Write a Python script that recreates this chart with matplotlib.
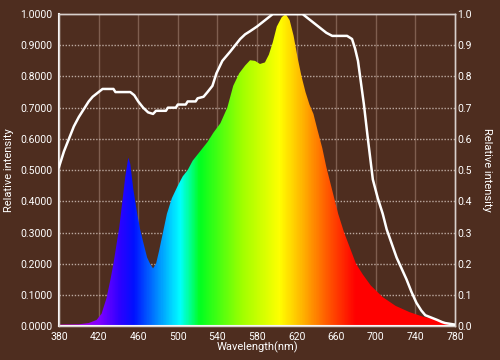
#Relative spectral intensity of a full spectrum LED lamp, on a brown background.
import matplotlib.pyplot as plt
import numpy as np
from matplotlib.colors import LinearSegmentedColormap

plt.rcParams['font.family'] = ['Roboto', 'DejaVu Sans']

# Lamp spectrum (left axis)
spec_wl = [380, 400, 410, 418, 423, 428, 432, 435, 438, 441, 444, 447, 450, 452,
           455, 459, 462, 465, 469, 472, 475, 478, 481, 485, 489, 494, 500, 505,
           510, 515, 520, 525, 530, 536, 543, 550, 556, 562, 568, 573, 578, 583,
           588, 592, 596, 600, 605, 609, 613, 617, 621, 625, 629, 633, 637, 641,
           646, 650, 654, 658, 662, 668, 674, 680, 687, 695, 707, 720, 734, 748,
           762, 772, 780]
spec_val = [0.005, 0.006, 0.01, 0.02, 0.04, 0.09, 0.15, 0.2, 0.26, 0.32, 0.40, 0.48,
            0.54, 0.52, 0.44, 0.36, 0.31, 0.27, 0.22, 0.2, 0.185, 0.2, 0.24, 0.3,
            0.36, 0.41, 0.45, 0.48, 0.5, 0.53, 0.55, 0.57, 0.59, 0.62, 0.65, 0.7,
            0.77, 0.81, 0.835, 0.852, 0.85, 0.84, 0.845, 0.87, 0.91, 0.96, 0.99,
            1.0, 0.98, 0.93, 0.86, 0.8, 0.75, 0.71, 0.68, 0.63, 0.57, 0.51, 0.46,
            0.41, 0.36, 0.3, 0.25, 0.2, 0.165, 0.13, 0.093, 0.065, 0.045, 0.03,
            0.02, 0.01, 0.005]

# White curve (right axis)
curve_wl = [380, 385, 390, 395, 400, 405, 410, 414, 418, 424, 435, 437, 452, 456,
            460, 465, 470, 475, 478, 488, 490, 498, 500, 508, 510, 518, 520, 526,
            530, 535, 539, 545, 553, 558, 563, 568, 573, 580, 586, 592, 596, 626,
            632, 638, 644, 650, 656, 671, 676, 679, 682, 685, 688, 692, 697, 702,
            707, 711, 716, 721, 726, 731, 736, 741, 746, 750, 754, 758, 762, 767,
            770, 780]
curve_val = [0.51, 0.56, 0.6, 0.64, 0.67, 0.695, 0.72, 0.735, 0.745, 0.76, 0.76,
             0.75, 0.75, 0.74, 0.72, 0.70, 0.685, 0.68, 0.69, 0.69, 0.70, 0.70,
             0.71, 0.71, 0.72, 0.72, 0.73, 0.735, 0.75, 0.77, 0.81, 0.85, 0.88,
             0.90, 0.92, 0.935, 0.945, 0.96, 0.975, 0.99, 1.0, 1.0, 0.985, 0.97,
             0.955, 0.94, 0.93, 0.93, 0.92, 0.89, 0.85, 0.78, 0.71, 0.6, 0.47,
             0.41, 0.36, 0.31, 0.265, 0.22, 0.185, 0.15, 0.11, 0.075, 0.05, 0.035,
             0.03, 0.025, 0.02, 0.013, 0.01, 0.005]

x_ticks = [380, 420, 460, 500, 540, 580, 620, 660, 700, 740, 780]
y_ticks = [0.0, 0.1, 0.2, 0.3, 0.4, 0.5, 0.6, 0.7, 0.8, 0.9, 1.0]

# wavelength -> colour stops for the fill
stops = [(380, '#d000d0'), (420, '#8000ff'), (440, '#3000ff'), (455, '#0010ff'),
         (480, '#0090ff'), (502, '#00ffff'), (522, '#00ff20'), (565, '#a0ff00'),
         (603, '#ffff00'), (625, '#ffb800'), (654, '#ff5000'), (680, '#ff0000'),
         (780, '#ff0000')]
cmap = LinearSegmentedColormap.from_list(
    'spec', [((w - 380) / 400, c) for w, c in stops])

bg = '#4e2d1f'
fig = plt.figure(figsize=(5, 3.6), dpi=100, facecolor=bg)
ax = fig.add_axes([0.118, 0.094, 0.792, 0.867])
ax.set_facecolor(bg)

# gradient fill clipped to the spectrum shape
poly = ax.fill_between(spec_wl, spec_val, 0, facecolor='none', edgecolor='none')
grad = np.linspace(380, 780, 800).reshape(1, -1)
img = ax.imshow(grad, extent=[380, 780, 0, 1], aspect='auto', cmap=cmap,
                vmin=380, vmax=780, origin='lower', zorder=2)
img.set_clip_path(poly.get_paths()[0], transform=ax.transData)

ax.set_xlim(380, 780)
ax.set_ylim(0, 1)
ax.set_xticks(x_ticks)
ax.set_yticks(y_ticks)
ax.set_yticklabels(['%.4f' % v for v in y_ticks])

for x in x_ticks[1:-1]:
    ax.axvline(x, color='#a08070', lw=1, alpha=0.6, zorder=1)
for y in y_ticks[1:-1]:
    ax.axhline(y, color='#d8c8c0', lw=1, ls=(0, (1, 1.2)), alpha=0.8, zorder=1)

ax2 = ax.twinx()
ax2.set_ylim(0, 1)
ax2.set_yticks(y_ticks)
ax2.set_yticklabels(['%.1f' % v for v in y_ticks])
ax2.plot(curve_wl, curve_val, color='white', lw=1.8, zorder=3)

for a in (ax, ax2):
    a.tick_params(colors='white', labelsize=7.5, length=0)
    for s in a.spines.values():
        s.set_color('#d8d0cc')
        s.set_linewidth(1)
ax.spines['left'].set_color('white')
ax.spines['left'].set_linewidth(1.5)
ax.spines['bottom'].set_color('white')
ax.spines['bottom'].set_linewidth(1.5)
ax.tick_params(axis='y', pad=5)
ax.tick_params(axis='x', pad=4.5)
ax2.tick_params(axis='y', pad=1.5)

ax.set_xlabel('Wavelength(nm)', color='white', fontsize=8, labelpad=-1)
ax.set_ylabel('Relative intensity', color='white', fontsize=8, labelpad=4)
ax2.set_ylabel('Relative intensity', color='white', fontsize=8, rotation=270,
               labelpad=15)

plt.savefig('out.png', facecolor=bg)
